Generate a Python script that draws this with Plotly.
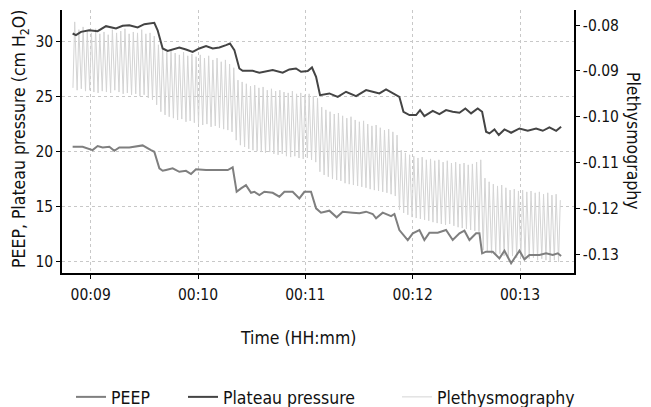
import numpy as np
import pandas as pd
import plotly.graph_objects as go

# ---------------- data ----------------
# time in minutes after 00:00
peep_t = [8.832, 8.925, 9.018, 9.065, 9.112, 9.174, 9.220, 9.267, 9.360, 9.422, 9.484, 9.562, 9.593,
          9.640, 9.671, 9.702, 9.764, 9.826, 9.888, 9.935, 9.981, 10.075, 10.168, 10.277, 10.323,
          10.360, 10.401, 10.447, 10.494, 10.525, 10.572, 10.618, 10.696, 10.758, 10.805, 10.882,
          10.944, 10.991, 11.053, 11.100, 11.146, 11.224, 11.292, 11.348, 11.441, 11.504, 11.566,
          11.628, 11.659, 11.721, 11.799, 11.830, 11.876, 11.954, 12.001, 12.063, 12.109, 12.156,
          12.234, 12.311, 12.373, 12.436, 12.482, 12.529, 12.591, 12.622, 12.647, 12.684, 12.746,
          12.808, 12.855, 12.917, 12.995, 13.041, 13.088, 13.181, 13.243, 13.305, 13.352, 13.383]
peep_v = [20.46, 20.46, 20.15, 20.52, 20.40, 20.46, 20.09, 20.40, 20.40, 20.46, 20.58, 20.15, 20.00,
          18.49, 18.27, 18.34, 18.49, 18.18, 18.27, 17.97, 18.40, 18.34, 18.34, 18.34, 18.58,
          16.36, 16.67, 16.97, 16.27, 16.36, 16.06, 16.36, 16.27, 15.91, 16.36, 16.36,
          15.76, 16.36, 16.36, 14.85, 14.46, 14.64, 14.04, 14.55, 14.46, 14.40, 14.55,
          14.34, 13.94, 14.46, 14.15, 14.34, 12.88, 11.97, 12.58, 12.88, 11.97, 12.64,
          12.64, 12.88, 11.97, 12.58, 12.82, 11.97, 12.58, 12.58, 10.76, 10.91, 10.91,
          10.30, 11.00, 9.85, 11.00, 10.21, 10.61, 10.61, 10.76, 10.61, 10.76, 10.52]

plateau_t = [8.832, 8.863, 8.910, 8.987, 9.065, 9.143, 9.236, 9.298, 9.360, 9.438, 9.500, 9.593,
             9.624, 9.671, 9.717, 9.764, 9.826, 9.888, 9.950, 10.012, 10.075, 10.137, 10.199,
             10.261, 10.298, 10.339, 10.385, 10.416, 10.509, 10.572, 10.634, 10.696, 10.789,
             10.851, 10.913, 10.960, 11.022, 11.062, 11.100, 11.137, 11.224, 11.302, 11.379,
             11.473, 11.550, 11.566, 11.628, 11.690, 11.752, 11.814, 11.876, 11.914, 11.970,
             12.032, 12.069, 12.109, 12.187, 12.249, 12.311, 12.373, 12.436, 12.491, 12.544,
             12.606, 12.647, 12.684, 12.715, 12.762, 12.802, 12.855, 12.917, 12.995, 13.072,
             13.150, 13.212, 13.274, 13.337, 13.383]
plateau_v = [30.76, 30.61, 30.91, 31.06, 30.97, 31.43, 31.22, 31.46, 31.52, 31.31, 31.61, 31.73,
             31.06, 29.40, 29.18, 29.31, 29.49, 29.31, 29.09, 29.40, 29.61, 29.40, 29.49,
             29.70, 29.85, 29.25, 27.58, 27.37, 27.37, 27.19, 27.34, 27.43, 27.19,
             27.49, 27.58, 27.28, 27.34, 27.67, 26.82, 25.15, 25.31, 25.00, 25.46,
             25.06, 25.52, 25.61, 25.46, 25.31, 25.67, 25.31, 25.00, 23.64, 23.34,
             23.34, 23.79, 23.25, 23.73, 23.43, 23.79, 23.64, 23.55, 23.94, 23.49,
             23.94, 23.64, 21.82, 21.67, 22.03, 21.52, 22.03, 21.73, 22.12, 21.91,
             22.12, 21.91, 22.22, 21.91, 22.27]

# plethysmography: one peak and one trough per breath
pleth_start = 8.835      # minutes, first breath
pleth_period = 0.039     # minutes per breath
pleth_peak = [
    -0.0793, -0.0810, -0.0804, -0.0813, -0.0817, -0.0808, -0.0819, -0.0815, -0.0821, -0.0810, -0.0817,
    -0.0813, -0.0808, -0.0819, -0.0815, -0.0817, -0.0810, -0.0819, -0.0817, -0.0824, -0.0843,
    -0.0850, -0.0859, -0.0854, -0.0861, -0.0865, -0.0859, -0.0867, -0.0863, -0.0869, -0.0865,
    -0.0872, -0.0867, -0.0876, -0.0872, -0.0880, -0.0876, -0.0885, -0.0893,
    -0.0920, -0.0924, -0.0928, -0.0933, -0.0931, -0.0937, -0.0935, -0.0942, -0.0939, -0.0944,
    -0.0942, -0.0946, -0.0948, -0.0944, -0.0950, -0.0948, -0.0952, -0.0950, -0.0955, -0.0959,
    -0.0979, -0.0985, -0.0989, -0.0994, -0.0992, -0.0998, -0.1003, -0.1000, -0.1007, -0.1011,
    -0.1009, -0.1016, -0.1020, -0.1018, -0.1024, -0.1029, -0.1027, -0.1033, -0.1040,
    -0.1073, -0.1079, -0.1083, -0.1086, -0.1090, -0.1088, -0.1094, -0.1092, -0.1096, -0.1094,
    -0.1099, -0.1096, -0.1101, -0.1099, -0.1103, -0.1101, -0.1105, -0.1103, -0.1099, -0.1094,
    -0.1134, -0.1142, -0.1147, -0.1151, -0.1149, -0.1155, -0.1160, -0.1158, -0.1162, -0.1160,
    -0.1164, -0.1162, -0.1166, -0.1164, -0.1169, -0.1166, -0.1171, -0.1169, -0.1182]
pleth_trough = [
    -0.0937, -0.0942, -0.0939, -0.0944, -0.0942, -0.0946, -0.0948, -0.0944, -0.0946, -0.0948, -0.0942,
    -0.0946, -0.0950, -0.0948, -0.0952, -0.0950, -0.0955, -0.0952, -0.0959, -0.0963, -0.0974,
    -0.0989, -0.0996, -0.1000, -0.1003, -0.1007, -0.1005, -0.1011, -0.1009, -0.1013, -0.1016,
    -0.1018, -0.1016, -0.1022, -0.1020, -0.1024, -0.1027, -0.1029, -0.1033,
    -0.1051, -0.1062, -0.1066, -0.1070, -0.1073, -0.1075, -0.1077, -0.1079, -0.1077, -0.1081,
    -0.1083, -0.1081, -0.1086, -0.1088, -0.1086, -0.1090, -0.1092, -0.1090, -0.1094, -0.1099,
    -0.1120, -0.1127, -0.1131, -0.1136, -0.1138, -0.1140, -0.1145, -0.1147, -0.1149, -0.1151,
    -0.1153, -0.1155, -0.1158, -0.1160, -0.1162, -0.1164, -0.1166, -0.1169, -0.1173,
    -0.1203, -0.1210, -0.1214, -0.1219, -0.1221, -0.1223, -0.1225, -0.1227, -0.1230, -0.1232,
    -0.1234, -0.1236, -0.1234, -0.1238, -0.1241, -0.1243, -0.1245, -0.1247, -0.1249, -0.1251,
    -0.1291, -0.1295, -0.1299, -0.1302, -0.1299, -0.1304, -0.1306, -0.1304, -0.1308, -0.1306,
    -0.1308, -0.1310, -0.1308, -0.1313, -0.1310, -0.1313, -0.1315, -0.1313, -0.1317]

x_ticks = ["00:09", "00:10", "00:11", "00:12", "00:13"]
left_ticks = [10, 15, 20, 25, 30]
right_ticks = [-0.13, -0.12, -0.11, -0.10, -0.09, -0.08]
right_tick_text = ["-0.13", "-0.12", "-0.11", "-0.10", "-0.09", "-0.08"]

# ---------------- build ----------------
base = pd.Timestamp("2000-01-01")
def to_time(mins):
    return base + pd.to_timedelta(np.asarray(mins, dtype=float), unit="m")

n = len(pleth_peak)
t_trough = pleth_start + np.arange(n) * pleth_period
t_peak = t_trough + pleth_period * 0.42
pt, pv = [], []
for i in range(n):
    pt += [t_trough[i], t_peak[i]]
    pv += [pleth_trough[i], pleth_peak[i]]

FONT = "Noto Sans Condensed, DejaVu Sans Condensed, sans-serif"
TICK = 15.5
TITLE = 17.5
INK = "#111111"

fig = go.Figure()
fig.add_trace(go.Scatter(x=to_time(pt), y=pv, mode="lines", name="Plethysmography",
                         line=dict(color="#d4d4d4", width=1), yaxis="y", legend="legend3"))
fig.add_trace(go.Scatter(x=to_time(peep_t), y=peep_v, mode="lines", name="PEEP",
                         line=dict(color="#7f7f7f", width=2), yaxis="y2", legend="legend"))
fig.add_trace(go.Scatter(x=to_time(plateau_t), y=plateau_v, mode="lines", name="Plateau pressure",
                         line=dict(color="#444444", width=2), yaxis="y2", legend="legend2"))

tickvals_x = [base + pd.Timedelta(minutes=int(s[3:])) for s in x_ticks]

L, R, T, B = 62, 77, 10, 134
W, H = 651, 407
pw, ph = W - L - R, H - T - B
def px(x):
    return (x - L) / pw
def py(y):
    return (H - B - y) / ph

leg_common = dict(orientation="h", yanchor="middle", y=py(397), xanchor="left",
                  font=dict(family=FONT, size=TITLE, color=INK), bgcolor="rgba(0,0,0,0)",
                  borderwidth=0)

fig.update_layout(
    width=W, height=H, margin=dict(l=L, r=R, t=T, b=B, autoexpand=False),
    paper_bgcolor="white", plot_bgcolor="white",
    font=dict(family=FONT, size=TICK, color=INK),
    xaxis=dict(type="date", range=[to_time([8.733])[0], to_time([13.503])[0]],
               tickvals=tickvals_x, ticktext=x_ticks,
               showgrid=True, gridcolor="#c8c8c8", griddash="3px,3px", gridwidth=1,
               showline=True, linecolor="black", linewidth=1.5,
               ticks="outside", ticklen=4, tickcolor="black", tickwidth=1,
               ticklabelstandoff=3,
               tickfont=dict(family=FONT, size=TICK, color=INK), zeroline=False),
    yaxis=dict(side="right", range=[-0.1341, -0.0767], tickvals=right_ticks,
               ticktext=right_tick_text, showgrid=False, zeroline=False,
               showline=True, linecolor="black", linewidth=1.5,
               ticks="outside", ticklen=4, tickcolor="black",
               tickfont=dict(family=FONT, size=TICK, color=INK)),
    yaxis2=dict(overlaying="y", side="left", range=[8.97, 32.9], tickvals=left_ticks,
                showgrid=True, gridcolor="#c8c8c8", griddash="3px,3px", gridwidth=1,
                zeroline=False, showline=True, linecolor="black", linewidth=1.5,
                ticks="outside", ticklen=4, tickcolor="black",
                tickfont=dict(family=FONT, size=TICK, color=INK)),
    legend=dict(x=px(71), **leg_common),
    legend2=dict(x=px(183), **leg_common),
    legend3=dict(x=px(397), **leg_common),
    annotations=[
        dict(text="Time (HH:mm)", xref="paper", yref="paper", x=px(298), y=py(338),
             xanchor="center", yanchor="middle", showarrow=False,
             font=dict(family=FONT, size=TITLE, color=INK)),
        dict(text="PEEP, Plateau pressure (cm H<sub>2</sub>O)", xref="paper", yref="paper",
             x=px(20), y=py(139), textangle=-90, xanchor="center", yanchor="middle",
             showarrow=False, font=dict(family=FONT, size=TITLE, color=INK)),
        dict(text="Plethysmography", xref="paper", yref="paper", x=px(633), y=py(141),
             textangle=90, xanchor="center", yanchor="middle", showarrow=False,
             font=dict(family=FONT, size=TITLE, color=INK)),
    ],
    showlegend=True,
)

fig.write_html("out.html", config={"displayModeBar": False},
               post_script="document.body.style.margin='0px';")
